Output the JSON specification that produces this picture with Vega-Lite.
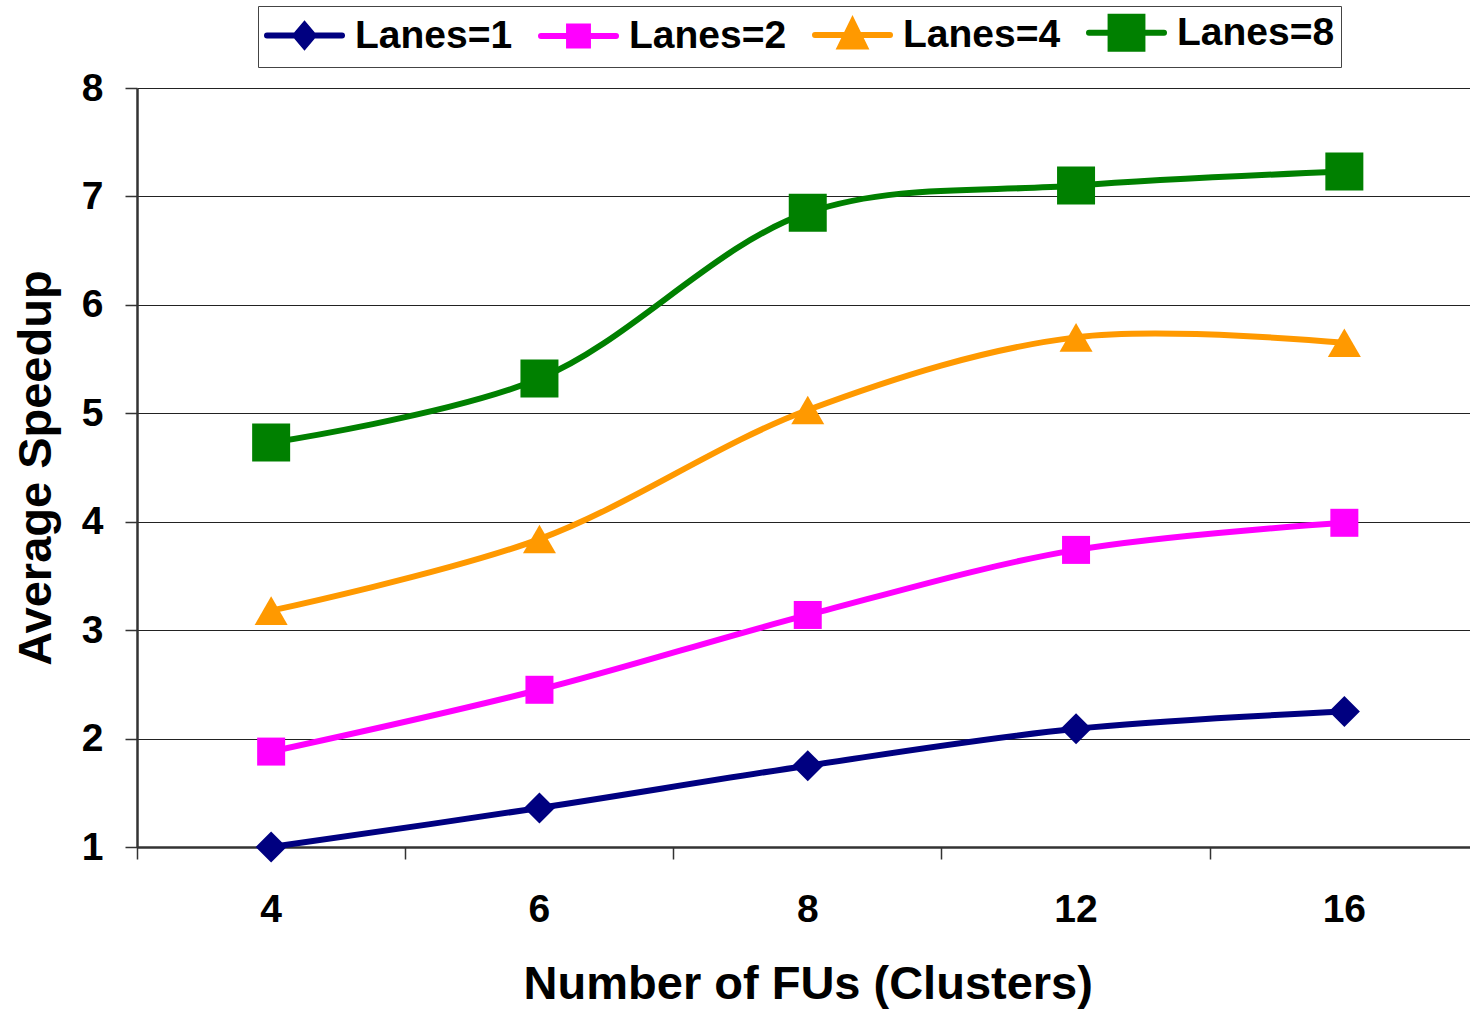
{
  "$schema": "https://vega.github.io/schema/vega-lite/v6.json",
  "autosize": {"type": "none"},
  "width": 1333,
  "height": 759,
  "padding": {"left": 137, "top": 88, "right": 0, "bottom": 162},
  "background": "white",
  "config": {"view": {"stroke": null}, "font": "Liberation Sans"},
  "data": {"values": [
    {"fus": 4, "lanes": "Lanes=1", "speedup": 1.0},
    {"fus": 6, "lanes": "Lanes=1", "speedup": 1.36},
    {"fus": 8, "lanes": "Lanes=1", "speedup": 1.75},
    {"fus": 12, "lanes": "Lanes=1", "speedup": 2.09},
    {"fus": 16, "lanes": "Lanes=1", "speedup": 2.25},
    {"fus": 4, "lanes": "Lanes=2", "speedup": 1.88},
    {"fus": 6, "lanes": "Lanes=2", "speedup": 2.45},
    {"fus": 8, "lanes": "Lanes=2", "speedup": 3.14},
    {"fus": 12, "lanes": "Lanes=2", "speedup": 3.74},
    {"fus": 16, "lanes": "Lanes=2", "speedup": 3.99},
    {"fus": 4, "lanes": "Lanes=4", "speedup": 3.18},
    {"fus": 6, "lanes": "Lanes=4", "speedup": 3.84},
    {"fus": 8, "lanes": "Lanes=4", "speedup": 5.03},
    {"fus": 12, "lanes": "Lanes=4", "speedup": 5.70},
    {"fus": 16, "lanes": "Lanes=4", "speedup": 5.65},
    {"fus": 4, "lanes": "Lanes=8", "speedup": 4.73},
    {"fus": 6, "lanes": "Lanes=8", "speedup": 5.32},
    {"fus": 8, "lanes": "Lanes=8", "speedup": 6.85},
    {"fus": 12, "lanes": "Lanes=8", "speedup": 7.10},
    {"fus": 16, "lanes": "Lanes=8", "speedup": 7.23}
  ]},
  "encoding": {
    "y": {
      "field": "speedup", "type": "quantitative",
      "scale": {"domain": [1, 8], "nice": false, "zero": false},
      "axis": {
        "values": [1, 2, 3, 4, 5, 6, 7, 8],
        "grid": true, "gridColor": "#222", "gridWidth": 1.2,
        "tickSize": 12, "tickColor": "#333", "tickWidth": 1.5,
        "domainColor": "#333", "domainWidth": 2.5,
        "labelPadding": 22, "labelFontSize": 39, "labelFontWeight": "bold", "labelColor": "black",
        "labelFont": "Liberation Sans",
        "title": "Average Speedup", "titleFontSize": 47, "titleFontWeight": "bold", "titleColor": "black",
        "titleFont": "Liberation Sans", "titlePadding": 21
      }
    },
    "color": {
      "field": "lanes", "type": "nominal",
      "scale": {"domain": ["Lanes=1", "Lanes=2", "Lanes=4", "Lanes=8"], "range": ["#000080", "#FF00FF", "#FF9900", "#008000"]},
      "legend": {
        "orient": "none", "legendX": 121, "legendY": -82,
        "direction": "horizontal", "columns": 4, "title": null,
        "labelFont": "Liberation Sans", "labelFontSize": 39, "labelFontWeight": "bold", "labelColor": "black",
        "labelLimit": 600,
        "labelOffset": 50, "columnPadding": 16, "padding": 6,
        "symbolSize": 1225, "symbolStrokeWidth": 6,
        "strokeColor": "#444", "fillColor": "white",
        "encode": {
          "symbols": {
            "update": {
              "shape": {"signal": "datum.value === 'Lanes=1' ? 'M-1,0L3.286,0M0.633,0L1.143,-0.6L1.653,0L1.143,0.6Z' : datum.value === 'Lanes=2' ? 'M-1,0L3.286,0M0.603,-0.54L1.683,-0.54L1.683,0.54L0.603,0.54Z' : datum.value === 'Lanes=4' ? 'M-1,0L3.286,0M0.453,0.66L1.143,-0.75L1.833,0.66Z' : 'M-1,0L3.286,0M0.233,-0.91L2.053,-0.91L2.053,0.91L0.233,0.91Z'"},
              "size": {"value": 1225},
              "fill": {"scale": "color", "field": "value"},
              "stroke": {"scale": "color", "field": "value"},
              "strokeWidth": {"value": 6},
              "strokeCap": {"value": "round"},
              "opacity": {"value": 1},
              "fillOpacity": {"value": 1},
              "strokeOpacity": {"value": 1}
            }
          }
        }
      }
    }
  },
  "layer": [
    {
      "mark": {"type": "line", "interpolate": "catmull-rom", "strokeWidth": 6},
      "encoding": {
        "x": {
          "field": "fus", "type": "ordinal", "bandPosition": 0.5,
          "scale": {"type": "band", "paddingInner": 0, "paddingOuter": 0, "range": [0, 1341.5]},
          "axis": {
            "orient": "bottom",
            "ticks": false, "tickSize": 0, "labelAngle": 0,
            "labelPadding": 43, "labelFontSize": 39, "labelFontWeight": "bold", "labelColor": "black",
            "labelFont": "Liberation Sans",
            "domainColor": "#333", "domainWidth": 2.5, "grid": false,
            "title": "Number of FUs (Clusters)", "titleFontSize": 47, "titleFontWeight": "bold", "titleColor": "black",
            "titleFont": "Liberation Sans", "titlePadding": 32
          }
        }
      }
    },
    {
      "transform": [{"filter": "datum.lanes === 'Lanes=1'"}],
      "mark": {"type": "point", "filled": true, "opacity": 1, "shape": "diamond", "size": 961},
      "encoding": {
        "x": {
          "field": "fus", "type": "ordinal", "bandPosition": 0.5,
          "axis": {
            "orient": "bottom",
            "labels": false, "domain": false, "ticks": true, "tickSize": 12, "tickColor": "#333", "tickWidth": 1.5,
            "bandPosition": 0, "grid": false, "title": null
          }
        }
      }
    },
    {
      "transform": [{"filter": "datum.lanes === 'Lanes=2'"}],
      "mark": {"type": "point", "filled": true, "opacity": 1, "shape": "square", "size": 784},
      "encoding": {
        "x": {"field": "fus", "type": "ordinal", "bandPosition": 0.5, "axis": null}
      }
    },
    {
      "transform": [{"filter": "datum.lanes === 'Lanes=4'"}],
      "mark": {"type": "point", "filled": true, "opacity": 1, "shape": "triangle-up", "size": 1089},
      "encoding": {
        "x": {"field": "fus", "type": "ordinal", "bandPosition": 0.5, "axis": null}
      }
    },
    {
      "transform": [{"filter": "datum.lanes === 'Lanes=8'"}],
      "mark": {"type": "point", "filled": true, "opacity": 1, "shape": "square", "size": 1444},
      "encoding": {
        "x": {"field": "fus", "type": "ordinal", "bandPosition": 0.5, "axis": null}
      }
    }
  ],
  "resolve": {"axis": {"x": "independent"}}
}
